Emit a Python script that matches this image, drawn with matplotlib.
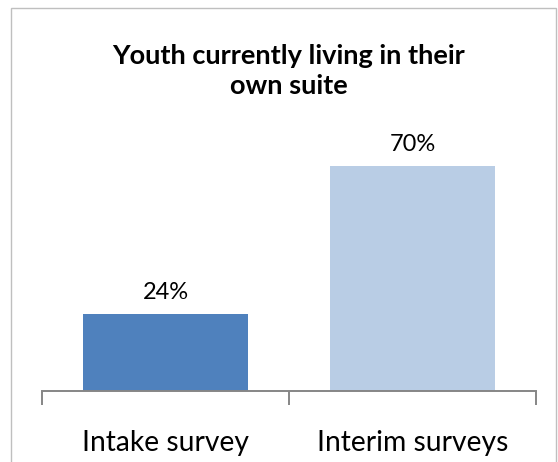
import matplotlib
import matplotlib.pyplot as plt
from matplotlib.patches import Rectangle

matplotlib.use("Agg")

categories = ["Intake survey", "Interim surveys"]
values = [24, 70]
bar_colors = ["#4F81BD", "#B9CDE5"]
title = "Youth currently living in their\nown suite"

W, H = 558, 462
fig = plt.figure(figsize=(W / 100, H / 100), dpi=100)
plt.rcParams['font.family'] = ['Lato', 'DejaVu Sans']

# outer chart frame
fig.patches.append(Rectangle((11 / W, -0.05), (545) / W, 1.05 - 8 / H, transform=fig.transFigure,
                             fill=False, edgecolor="#BFBFBF", linewidth=1.0))

# plot area: x from 42 to 536 px, baseline at y=391 px
ax = fig.add_axes([42 / W, (H - 391) / H, (536 - 42) / W, 257 / H])
ax.bar(range(len(values)), values, width=0.67, color=bar_colors)
ax.set_xlim(-0.5, 1.5)
ax.set_ylim(0, 80)

for i, v in enumerate(values):
    ax.text(i, v + 3.5, f"{v}%", ha="center", va="bottom", fontsize=17)

for s in ["top", "right", "left"]:
    ax.spines[s].set_visible(False)
ax.spines["bottom"].set_color("#868686")
ax.spines["bottom"].set_linewidth(1.4)
ax.set_yticks([])
ax.set_xticks([-0.5, 0.5, 1.5])
ax.set_xticklabels([])
ax.set_xticks(range(len(categories)), minor=True)
ax.set_xticklabels(categories, minor=True, fontsize=20.3)
ax.tick_params(axis="x", which="major", length=10, width=1.4, color="#868686")
ax.tick_params(axis="x", which="minor", length=0, pad=28)

fig.text(289 / W, 1 - 71 / H, title, ha="center", va="center", fontsize=19.5,
         fontweight="bold", linespacing=1.25)

fig.savefig("out.png", dpi=100)
